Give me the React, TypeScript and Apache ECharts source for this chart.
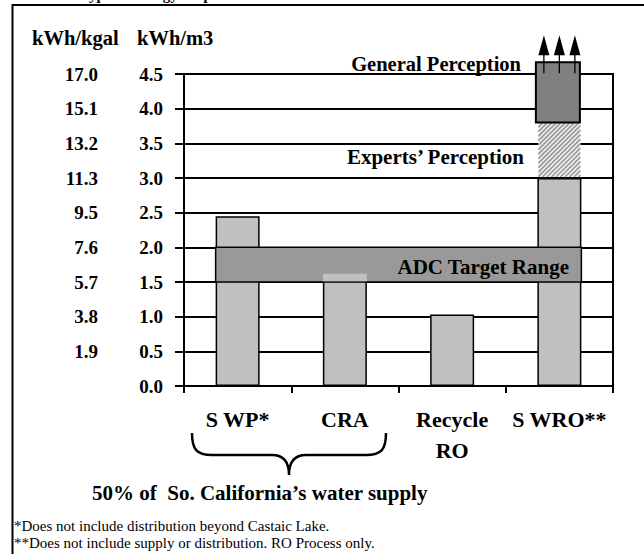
import React, { useEffect, useRef } from "react";
import * as echarts from "echarts";

const categories = ["S WP*", "CRA", "Recycle\nRO", "S WRO**"];
const energyKWhM3 = [2.45, 1.62, 1.03, 3.0];
// [categoryStart, categoryEnd, low, high]
const adcTargetRange = [[0, 3, 1.5, 2.0]];
// CRA bar part drawn over the target band: [category, low, high]
const craOverBand = [[1, 1.5, 1.62]];
// SWRO perception segments: [category, low, high]
const expertsPerception = [[3, 3.0, 3.8]];
const generalPerception = [[3, 3.8, 4.67]];
const m3TickLabels = ["0.0", "0.5", "1.0", "1.5", "2.0", "2.5", "3.0", "3.5", "4.0", "4.5"];
const kgalTickLabels = ["", "1.9", "3.8", "5.7", "7.6", "9.5", "11.3", "13.2", "15.1", "17.0"];
const footnotes = [
  "*Does not include distribution beyond Castaic Lake.",
  "**Does not include supply or distribution. RO Process only.",
];

const SERIF = '"Liberation Serif", "Times New Roman", serif';
const BAR_W = 44;

echarts.graphic.registerShape(
  "brace",
  echarts.graphic.extendPath(
    "M192 433 C192 450 197 455 212 455 L272 455 C284 455 289 462 289 475 C289 462 294 455 306 455 L366 455 C381 455 386 450 386 433",
    {}
  )
);

export default function App() {
  const ref = useRef<HTMLDivElement>(null);
  useEffect(() => {
    if (!ref.current) return;
    const chart = echarts.init(ref.current, undefined, { renderer: "svg" });
    const option: any = {
      animation: false,
      backgroundColor: "#fff",
      grid: {
        left: 184,
        top: 74,
        width: 429,
        height: 312,
        show: true,
        backgroundColor: "#fff",
        borderColor: "#000",
        borderWidth: 2,
      },
      xAxis: {
        type: "category",
        data: categories,
        axisLine: { lineStyle: { color: "#000", width: 2 } },
        axisTick: { show: true, length: 7, lineStyle: { color: "#000", width: 2 } },
        axisLabel: {
          interval: 0,
          color: "#000",
          fontFamily: SERIF,
          fontWeight: "bold",
          fontSize: 22,
          lineHeight: 31,
          margin: 18,
        },
      },
      yAxis: [
        {
          type: "value",
          min: 0,
          max: 4.5,
          interval: 0.5,
          axisLine: { show: true, lineStyle: { color: "#000", width: 2 } },
          axisTick: { show: true, length: 9, lineStyle: { color: "#000", width: 2 } },
          splitLine: { show: true, lineStyle: { color: "#000", width: 2 } },
          axisLabel: {
            color: "#000",
            fontFamily: SERIF,
            fontWeight: "bold",
            fontSize: 19,
            margin: 21,
            formatter: (v: number) => m3TickLabels[Math.round(v / 0.5)],
          },
        },
        {
          type: "value",
          position: "left",
          min: 0,
          max: 4.5,
          interval: 0.5,
          axisLine: { show: false },
          axisTick: { show: false },
          splitLine: { show: false },
          axisLabel: {
            color: "#000",
            fontFamily: SERIF,
            fontWeight: "bold",
            fontSize: 19,
            margin: 86,
            formatter: (v: number) => kgalTickLabels[Math.round(v / 0.5)],
          },
        },
      ],
      series: [
        {
          type: "bar",
          name: "Energy",
          data: energyKWhM3,
          barWidth: BAR_W,
          clip: false,
          z: 2,
          itemStyle: { color: "#c0c0c0", borderColor: "#000", borderWidth: 1.5 },
        },
        {
          type: "custom",
          name: "ADC Target Range",
          data: adcTargetRange,
          encode: { x: [0, 1], y: [2, 3] },
          z: 3,
          renderItem: (params: any, api: any) => {
            const a = api.coord([api.value(0), api.value(2)]);
            const b = api.coord([api.value(1), api.value(3)]);
            return {
              type: "rect",
              shape: { x: a[0] - BAR_W / 2, y: b[1], width: b[0] - a[0] + BAR_W, height: a[1] - b[1] },
              style: { fill: "#999999", stroke: "#000", lineWidth: 1.5 },
            };
          },
        },
        {
          type: "custom",
          name: "CRA over band",
          data: craOverBand,
          encode: { x: 0, y: [1, 2] },
          z: 4,
          renderItem: (params: any, api: any) => {
            const lo = api.coord([api.value(0), api.value(1)]);
            const hi = api.coord([api.value(0), api.value(2)]);
            return {
              type: "rect",
              shape: { x: lo[0] - BAR_W / 2, y: hi[1], width: BAR_W, height: lo[1] - hi[1] - 0.8 },
              style: { fill: "#c0c0c0" },
            };
          },
        },
        {
          type: "custom",
          name: "Experts' Perception",
          data: expertsPerception,
          encode: { x: 0, y: [1, 2] },
          z: 4,
          renderItem: (params: any, api: any) => {
            const lo = api.coord([api.value(0), api.value(1)]);
            const hi = api.coord([api.value(0), api.value(2)]);
            const L = lo[0] - BAR_W / 2 + 1;
            const R = lo[0] + BAR_W / 2 - 1;
            const T = hi[1];
            const B = lo[1] - 1;
            const children: any[] = [
              { type: "rect", shape: { x: L, y: T, width: R - L, height: B - T }, style: { fill: "#f4f4f4" } },
            ];
            for (let c = L + T; c <= R + B; c += 4.5) {
              const x1 = Math.max(L, c - B);
              const x2 = Math.min(R, c - T);
              if (x2 > x1) {
                children.push({
                  type: "line",
                  shape: { x1, y1: c - x1, x2, y2: c - x2 },
                  style: { stroke: "#9a9a9a", lineWidth: 1.7 },
                });
              }
            }
            return { type: "group", children };
          },
        },
        {
          type: "custom",
          name: "General Perception",
          data: generalPerception,
          encode: { x: 0, y: [1, 2] },
          z: 5,
          renderItem: (params: any, api: any) => {
            const lo = api.coord([api.value(0), api.value(1)]);
            const hi = api.coord([api.value(0), api.value(2)]);
            const cx = lo[0] - 1.5;
            const children: any[] = [
              {
                type: "rect",
                shape: { x: cx - BAR_W / 2, y: hi[1], width: BAR_W, height: lo[1] - hi[1] },
                style: { fill: "#808080", stroke: "#000", lineWidth: 2 },
              },
            ];
            [-14, 1.5, 17].forEach((dx) => {
              const x = cx + dx;
              children.push({
                type: "line",
                shape: { x1: x, y1: hi[1] + 11, x2: x, y2: hi[1] - 8 },
                style: { stroke: "#000", lineWidth: 1.3 },
              });
              children.push({
                type: "polygon",
                shape: { points: [[x - 5.5, hi[1] - 7], [x + 5.5, hi[1] - 7], [x, hi[1] - 27]] },
                style: { fill: "#000" },
              });
            });
            return { type: "group", children };
          },
        },
      ],
      graphic: {
        elements: [
          {
            type: "polyline",
            shape: { points: [[12.5, 570], [12.5, 5], [660, 5]] },
            style: { stroke: "#000", lineWidth: 2, fill: "none" },
            z: 100,
          },
          {
            type: "text",
            x: 80,
            y: -5,
            style: { text: "Typical Energy Requirements", font: `bold 15px ${SERIF}`, fill: "#000", textAlign: "left", textVerticalAlign: "middle" },
            z: 100,
          },
          {
            type: "text",
            x: 32,
            y: 38,
            style: { text: "kWh/kgal", font: `bold 20.5px ${SERIF}`, fill: "#000", textAlign: "left", textVerticalAlign: "middle" },
            z: 100,
          },
          {
            type: "text",
            x: 137,
            y: 38,
            style: { text: "kWh/m3", font: `bold 20.5px ${SERIF}`, fill: "#000", textAlign: "left", textVerticalAlign: "middle" },
            z: 100,
          },
          {
            type: "text",
            x: 521,
            y: 63.5,
            style: { text: "General Perception", font: `bold 20.5px ${SERIF}`, fill: "#000", textAlign: "right", textVerticalAlign: "middle" },
            z: 0,
          },
          {
            type: "text",
            x: 524,
            y: 157,
            style: { text: "Experts\u2019 Perception", font: `bold 21px ${SERIF}`, fill: "#000", textAlign: "right", textVerticalAlign: "middle" },
            z: 100,
          },
          {
            type: "text",
            x: 569,
            y: 267,
            style: { text: "ADC Target Range", font: `bold 21px ${SERIF}`, fill: "#000", textAlign: "right", textVerticalAlign: "middle" },
            z: 100,
          },
          {
            type: "brace",
            x: 0,
            y: 0,
            style: { stroke: "#000", lineWidth: 2.5, fill: "none" },
            z: 100,
          },
          {
            type: "text",
            x: 92,
            y: 493,
            style: { text: "50% of  So. California\u2019s water supply", font: `bold 21px ${SERIF}`, fill: "#000", textAlign: "left", textVerticalAlign: "middle" },
            z: 100,
          },
          {
            type: "text",
            x: 14,
            y: 526,
            style: { text: footnotes[0], font: `15px ${SERIF}`, fill: "#000", textAlign: "left", textVerticalAlign: "middle" },
            z: 100,
          },
          {
            type: "text",
            x: 14,
            y: 542.5,
            style: { text: footnotes[1], font: `15px ${SERIF}`, fill: "#000", textAlign: "left", textVerticalAlign: "middle" },
            z: 100,
          },
        ],
      },
    };
    chart.setOption(option);
    return () => chart.dispose();
  }, []);
  return (
    <div
      ref={ref}
      style={{ position: "absolute", left: 0, top: 0, width: 644, height: 554, background: "#fff" }}
    />
  );
}
